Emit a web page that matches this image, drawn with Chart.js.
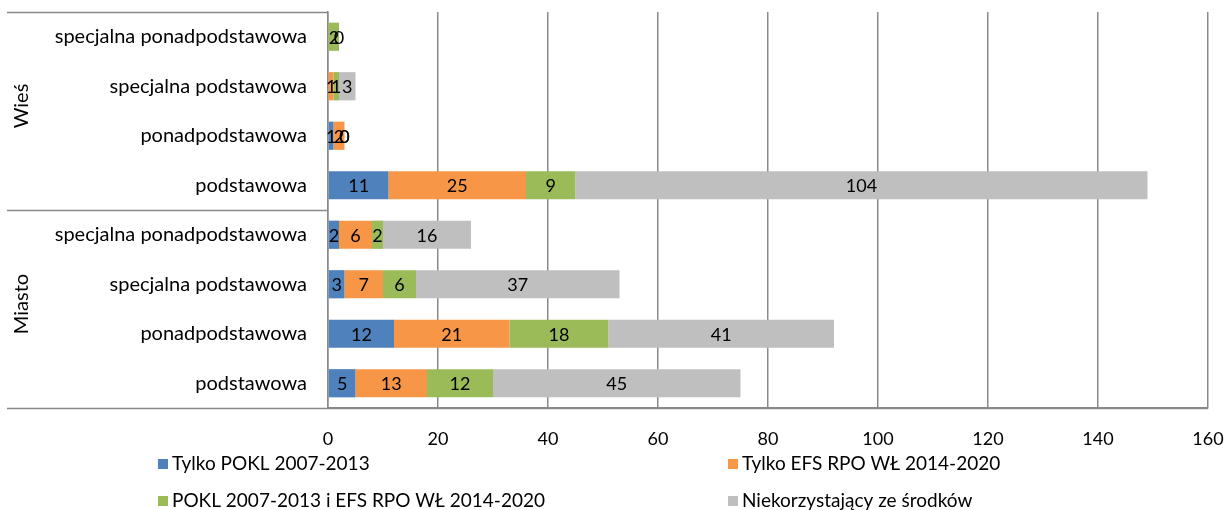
<!DOCTYPE html>
<html>
<head>
<meta charset="utf-8">
<script src="https://cdn.jsdelivr.net/npm/chart.js@4.4.0/dist/chart.umd.min.js"></script>
<style>
  html, body { margin: 0; padding: 0; background: #ffffff; }
  #wrap { width: 1227px; height: 510px; }
</style>
</head>
<body>
<div id="wrap"><canvas id="c" width="1227" height="510"></canvas></div>
<script>
// Categories (top to bottom) and their groups
const categories = [
  'specjalna ponadpodstawowa', 'specjalna podstawowa', 'ponadpodstawowa', 'podstawowa',
  'specjalna ponadpodstawowa', 'specjalna podstawowa', 'ponadpodstawowa', 'podstawowa'
];
const groups = ['Wieś', 'Miasto'];
const groupSize = 4;

// Series values (null = no label / no segment)
const tylkoPOKL   = [null, null, 1, 11, 2, 3, 12, 5];
const tylkoEFS    = [null, 1, 2, 25, 6, 7, 21, 13];
const obaProgramy = [2, 1, 0, 9, 2, 6, 18, 12];
const niekorzyst  = [0, 3, 0, 104, 16, 37, 41, 45];

const seriesNames = [
  'Tylko POKL 2007-2013',
  'Tylko EFS RPO WŁ 2014-2020',
  'POKL 2007-2013 i EFS RPO WŁ 2014-2020',
  'Niekorzystający ze środków'
];
const seriesColors = ['#4F81BD', '#F79646', '#9BBB59', '#BFBFBF'];
const xTicks = [0, 20, 40, 60, 80, 100, 120, 140, 160];

const FONT = 'Lato, "Open Sans", sans-serif';
const LINE = '#898989';
const PLOT_LEFT = 328, PLOT_RIGHT = 1208, PLOT_TOP = 12, PLOT_BOTTOM = 408;

// Segment value labels
const valueLabels = {
  id: 'valueLabels',
  afterDatasetsDraw(chart) {
    const ctx = chart.ctx;
    ctx.save();
    ctx.font = '18px ' + FONT;
    ctx.fillStyle = '#000';
    ctx.textAlign = 'center';
    ctx.textBaseline = 'middle';
    chart.data.datasets.forEach((ds, di) => {
      const meta = chart.getDatasetMeta(di);
      meta.data.forEach((bar, i) => {
        const v = ds.data[i];
        if (v === null || v === undefined) return;
        const cx = (bar.x + bar.base) / 2;
        ctx.fillText(String(v), cx, bar.y + 1);
      });
    });
    ctx.restore();
  }
};

// Group labels, group separators and legend
const decorations = {
  id: 'decorations',
  afterDraw(chart) {
    const ctx = chart.ctx;
    const y = chart.scales.y;
    const step = (y.bottom - y.top) / categories.length;
    ctx.save();
    ctx.strokeStyle = LINE;
    ctx.lineWidth = 1.5;
    // horizontal separators in category area
    for (let g = 0; g <= groups.length; g++) {
      const yy = Math.round(y.top + g * groupSize * step) + 0.5;
      ctx.beginPath();
      ctx.moveTo(7, yy);
      ctx.lineTo(g === groups.length ? PLOT_RIGHT : PLOT_LEFT, yy);
      ctx.stroke();
    }
    // rotated group names
    ctx.fillStyle = '#000';
    ctx.font = '20px ' + FONT;
    ctx.textAlign = 'center';
    ctx.textBaseline = 'middle';
    groups.forEach((name, g) => {
      const cy = y.top + (g * groupSize + groupSize / 2) * step - 5;
      ctx.save();
      ctx.translate(22, cy);
      ctx.rotate(-Math.PI / 2);
      ctx.fillText(name, 0, 0);
      ctx.restore();
    });
    // legend in two columns
    ctx.font = '19px ' + FONT;
    ctx.textAlign = 'left';
    const cols = [158, 728];
    const rows = [464, 501];
    seriesNames.forEach((name, i) => {
      const x = cols[i % 2], yy = rows[Math.floor(i / 2)];
      ctx.fillStyle = seriesColors[i];
      ctx.fillRect(x, yy - 5, 10, 10);
      ctx.fillStyle = '#000';
      ctx.fillText(name, x + 14, yy);
    });
    ctx.restore();
  }
};

const datasetsRaw = [tylkoPOKL, tylkoEFS, obaProgramy, niekorzyst];

new Chart(document.getElementById('c'), {
  type: 'bar',
  data: {
    labels: categories,
    datasets: datasetsRaw.map((d, i) => ({
      label: seriesNames[i],
      data: d,
      backgroundColor: seriesColors[i],
      borderWidth: 0,
      barPercentage: 0.57,
      categoryPercentage: 1.0
    }))
  },
  options: {
    indexAxis: 'y',
    responsive: false,
    animation: false,
    layout: { padding: { left: 0, right: 1227 - PLOT_RIGHT, top: PLOT_TOP, bottom: 0 } },
    plugins: { legend: { display: false }, tooltip: { enabled: false } },
    scales: {
      x: {
        stacked: true,
        min: 0, max: 160,
        afterBuildTicks(axis) { axis.ticks = xTicks.map(v => ({ value: v })); },
        afterFit(axis) {
          axis.height = 510 - PLOT_BOTTOM;
          axis.paddingLeft = 0; axis.paddingRight = 0;
        },
        grid: { color: LINE, lineWidth: 1.5, drawTicks: false },
        border: { display: true, color: LINE, width: 1.5 },
        ticks: { color: '#000', font: { family: FONT, size: 18 }, padding: 20, maxRotation: 0 }
      },
      y: {
        stacked: true,
        afterFit(axis) {
          axis.width = PLOT_LEFT;
          axis.paddingTop = 0; axis.paddingBottom = 0;
        },
        grid: { display: false, drawTicks: false },
        border: { display: true, color: LINE, width: 1.5 },
        ticks: { color: '#000', font: { family: FONT, size: 20 }, padding: 21, autoSkip: false }
      }
    }
  },
  plugins: [valueLabels, decorations]
});
</script>
</body>
</html>
